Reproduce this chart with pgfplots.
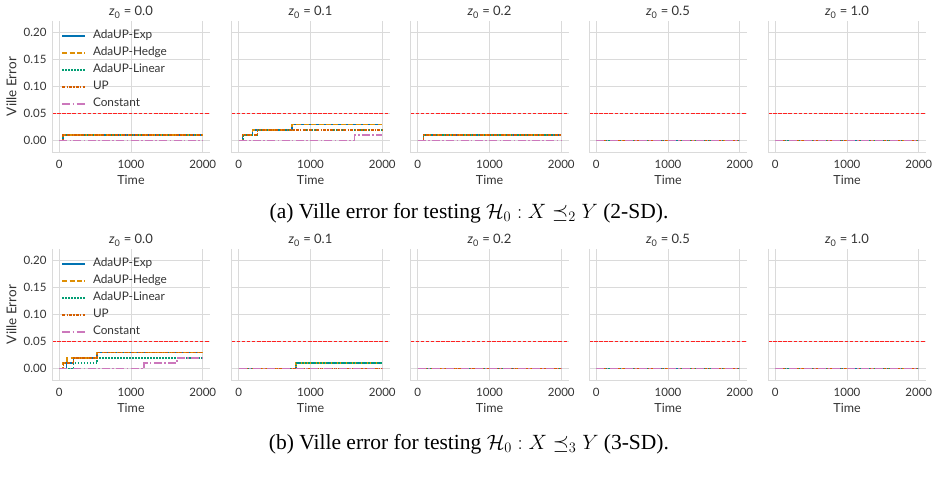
\documentclass[border=0pt]{standalone}
\usepackage{pgfplots}
\pgfplotsset{compat=1.18}
\usepackage{fontspec}
\setmainfont{Liberation Serif}
\newfontfamily\plotfont{Lato}

\definecolor{cExp}{HTML}{0173B2}
\definecolor{cHedge}{HTML}{DE8F05}
\definecolor{cLin}{HTML}{029E73}
\definecolor{cUP}{HTML}{D55E00}
\definecolor{cConst}{HTML}{CC78BC}
\definecolor{cLevel}{HTML}{FF2020}
\definecolor{gridgray}{HTML}{DADADA}
\definecolor{txt}{HTML}{333333}

\newcommand{\tickfont}{\plotfont\fontsize{11.5}{13}\selectfont}
\newcommand{\legfont}{\plotfont\fontsize{11.8}{13}\selectfont}
\newcommand{\labfont}{\plotfont\fontsize{12.5}{14}\selectfont}
\newcommand{\ylabfont}{\plotfont\fontsize{13.5}{15}\selectfont}
\newcommand{\titfont}{\plotfont\fontsize{13}{15}\selectfont}

\pgfplotsset{
  panel/.style={
    scale only axis, width=158pt, height=131pt,
    anchor=south west,
    xmin=-100, xmax=2100, ymin=-0.021, ymax=0.221,
    xtick={0,1000,2000}, ytick={0,0.05,0.1,0.15,0.2},
    yticklabels={},
    axis on top=false,
    grid=major,
    major grid style={draw=gridgray, line width=0.9pt},
    axis line style={draw=none},
    major tick length=0pt,
    % left and bottom spines only
    after end axis/.code={\draw[gridgray, line width=0.9pt]
      (rel axis cs:0,1) -- (rel axis cs:0,0) -- (rel axis cs:1,0);},
    /pgf/number format/assume math mode=true,
    /pgf/number format/1000 sep={},
    tick label style={font=\tickfont, text=txt},
    xticklabel style={anchor=base, yshift=-17pt},
    xlabel={Time},
    xlabel style={font=\labfont, text=txt, at={(axis description cs:0.5,0)}, anchor=base, yshift=-33pt},
    every axis title shift=0pt,
    title style={font=\titfont, text=txt, at={(axis description cs:0.5,1)}, anchor=base, yshift=5pt},
  },
  firstpanel/.style={
    panel,
    yticklabels={0.00,0.05,0.10,0.15,0.20},
    yticklabel style={xshift=-2pt},
    ylabel={Ville Error},
    ylabel style={font=\ylabfont, text=txt, at={(axis description cs:-0.2247,0.5)}, anchor=base},
    legend cell align=left,
    legend image code/.code={\draw[#1] (0pt,0pt) -- (23pt,0pt);},
    legend style={draw=none, fill=none,
      at={(axis description cs:0.04,0.95)}, anchor=north west,
      font=\legfont, text=txt, row sep=4.3pt,
      nodes={inner sep=1pt, text height=8.2pt, text depth=2.5pt},
      /tikz/every odd column/.append style={column sep=6pt}},
  },
}

% The 0.05 level, then the five methods
\newcommand{\methods}[5]{%
  \addplot[draw=cLevel, line width=1.5pt, dash pattern=on 3.5pt off 1.6pt, forget plot] coordinates {(-100,0.05) (2100,0.05)};
  \addplot[draw=cExp, line width=1.5pt, const plot] coordinates {#1};
  \addplot[draw=cHedge, line width=1.5pt, const plot, dash pattern=on 5pt off 2.4pt] coordinates {#2};
  \addplot[draw=cLin, line width=1.5pt, const plot, dash pattern=on 1.4pt off 1.6pt] coordinates {#3};
  \addplot[draw=cUP, line width=1.5pt, const plot, dash pattern=on 3pt off 1.3pt on 1.2pt off 1.3pt] coordinates {#4};
  \addplot[draw=cConst, line width=1.5pt, const plot, dash pattern=on 8pt off 2.4pt on 1.5pt off 2.4pt] coordinates {#5};
}
\newcommand{\zeros}{(0,0) (2000,0)}

\begin{document}
\begin{tikzpicture}
\useasboundingbox (0,0) rectangle (938pt,481pt);

% ---------- (a) 2-SD ----------
\begin{axis}[firstpanel, at={(52pt,329pt)}, title={\textit{z}\textsubscript{0} = 0.0}]
\methods{(0,0) (50,0.01) (2000,0.01)}{(0,0) (50,0.01) (2000,0.01)}{(0,0) (50,0.01) (2000,0.01)}{(0,0) (50,0.01) (2000,0.01)}{\zeros}
\legend{AdaUP-Exp, AdaUP-Hedge, AdaUP-Linear, UP, Constant}
\end{axis}
\begin{axis}[panel, at={(231.5pt,329pt)}, title={\textit{z}\textsubscript{0} = 0.1}]
\methods{(0,0) (50,0.01) (190,0.02) (740,0.03) (2000,0.03)}{(0,0) (50,0.01) (190,0.02) (740,0.03) (2000,0.03)}{(0,0) (70,0.01) (260,0.02) (2000,0.02)}{(0,0) (50,0.01) (260,0.02) (2000,0.02)}{(0,0) (1610,0.01) (2000,0.01)}
\end{axis}
\begin{axis}[panel, at={(410.5pt,329pt)}, title={\textit{z}\textsubscript{0} = 0.2}]
\methods{(0,0) (80,0.01) (2000,0.01)}{(0,0) (80,0.01) (2000,0.01)}{(0,0) (80,0.01) (2000,0.01)}{(0,0) (80,0.01) (2000,0.01)}{\zeros}
\end{axis}
\begin{axis}[panel, at={(589pt,329pt)}, title={\textit{z}\textsubscript{0} = 0.5}]
\methods{\zeros}{\zeros}{\zeros}{\zeros}{\zeros}
\end{axis}
\begin{axis}[panel, at={(768pt,329pt)}, title={\textit{z}\textsubscript{0} = 1.0}]
\methods{\zeros}{\zeros}{\zeros}{\zeros}{\zeros}
\end{axis}
\node[font=\fontsize{21.5}{24}\selectfont, text=black] at (469pt,267.5pt)
  {(a) Ville error for testing $\mathcal{H}_0 : X \preceq_2 Y$ (2-SD).};

% ---------- (b) 3-SD ----------
\begin{axis}[firstpanel, at={(52pt,101pt)}, title={\textit{z}\textsubscript{0} = 0.0}]
\methods{(0,0) (100,0.01) (200,0.02) (530,0.03) (2000,0.03)}{(0,0) (50,0.01) (110,0.02) (530,0.03) (2000,0.03)}{(0,0) (200,0.01) (530,0.02) (2000,0.02)}{(0,0) (60,0.01) (200,0.02) (530,0.03) (2000,0.03)}{(0,0) (1180,0.01) (1640,0.02) (2000,0.02)}
\legend{AdaUP-Exp, AdaUP-Hedge, AdaUP-Linear, UP, Constant}
\end{axis}
\begin{axis}[panel, at={(231.5pt,101pt)}, title={\textit{z}\textsubscript{0} = 0.1}]
\methods{(0,0) (800,0.01) (2000,0.01)}{(0,0) (800,0.01) (2000,0.01)}{(0,0) (800,0.01) (2000,0.01)}{\zeros}{\zeros}
\end{axis}
\begin{axis}[panel, at={(410.5pt,101pt)}, title={\textit{z}\textsubscript{0} = 0.2}]
\methods{\zeros}{\zeros}{\zeros}{\zeros}{\zeros}
\end{axis}
\begin{axis}[panel, at={(589pt,101pt)}, title={\textit{z}\textsubscript{0} = 0.5}]
\methods{\zeros}{\zeros}{\zeros}{\zeros}{\zeros}
\end{axis}
\begin{axis}[panel, at={(768pt,101pt)}, title={\textit{z}\textsubscript{0} = 1.0}]
\methods{\zeros}{\zeros}{\zeros}{\zeros}{\zeros}
\end{axis}
\node[font=\fontsize{21.5}{24}\selectfont, text=black] at (469pt,36.5pt)
  {(b) Ville error for testing $\mathcal{H}_0 : X \preceq_3 Y$ (3-SD).};
\end{tikzpicture}
\end{document}
